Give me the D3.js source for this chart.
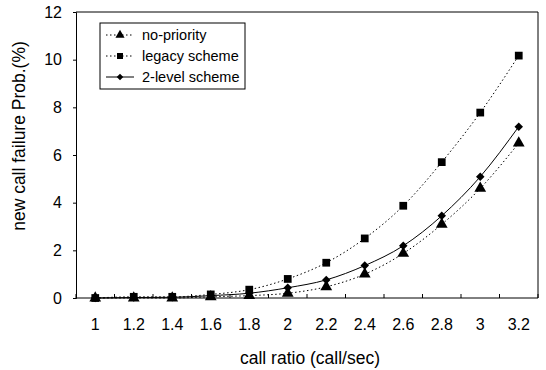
<!DOCTYPE html>
<html>
<head>
<meta charset="utf-8">
<script src="https://cdn.jsdelivr.net/npm/d3@7"></script>
<style>
  body { margin: 0; background: #fff; }
  svg text { font-family: "Liberation Sans", Arial, sans-serif; fill: #000; }
</style>
</head>
<body>
<svg id="chart" width="546" height="370"></svg>
<script>
// call ratio categories
const ratios = ["1", "1.2", "1.4", "1.6", "1.8", "2", "2.2", "2.4", "2.6", "2.8", "3", "3.2"];
const noPriority = [0, 0, 0, 0.05, 0.1, 0.2, 0.47, 1.0, 1.87, 3.09, 4.6, 6.5];
const legacy = [0, 0.05, 0.05, 0.15, 0.35, 0.8, 1.48, 2.5, 3.87, 5.7, 7.78, 10.17];
const twoLevel = [0, 0.02, 0.03, 0.1, 0.2, 0.43, 0.76, 1.36, 2.19, 3.45, 5.09, 7.19];
const yTicks = [0, 2, 4, 6, 8, 10, 12];

// diamond = square turned 45deg (excel style)
const series = [
  { name: "no-priority", values: noPriority, shape: d3.symbolTriangle, size: 60, rot: 0, dash: "1.5,2.5" },
  { name: "legacy scheme", values: legacy, shape: d3.symbolSquare, size: 60, rot: 0, dash: "1.5,2.5" },
  { name: "2-level scheme", values: twoLevel, shape: d3.symbolSquare, size: 36, rot: 45, dash: null }
];

const svg = d3.select("#chart");
const m = { left: 76, right: 538, top: 12, bottom: 298 };

const x = d3.scaleBand().domain(ratios).range([m.left, m.right]);
const y = d3.scaleLinear().domain([0, 12]).range([m.bottom, m.top]);

// plot frame (top + right)
svg.append("path")
  .attr("d", `M${m.left},${m.top}H${m.right}V${m.bottom}`)
  .attr("fill", "none").attr("stroke", "#000").attr("stroke-width", 1);

// y axis
const yAxis = svg.append("g")
  .attr("transform", `translate(${m.left},0)`)
  .call(d3.axisLeft(y).tickValues(yTicks).tickSize(3).tickPadding(11));
yAxis.selectAll("text").style("font-size", "16px");

// x axis: ticks between categories, pointing up
const xAxis = svg.append("g").attr("transform", `translate(0,${m.bottom})`);
xAxis.append("line").attr("x1", m.left).attr("x2", m.right).attr("stroke", "#000");
const bounds = ratios.map(r => x(r)).concat([m.right]);
xAxis.selectAll(".tk").data(bounds).enter().append("line")
  .attr("x1", d => d).attr("x2", d => d).attr("y1", 0).attr("y2", -4).attr("stroke", "#000");
xAxis.selectAll(".lb").data(ratios).enter().append("text")
  .attr("x", d => x(d) + x.bandwidth() / 2).attr("y", 32)
  .attr("text-anchor", "middle").style("font-size", "16px").text(d => d);

const cx = r => x(r) + x.bandwidth() / 2;
const line = d3.line().x((d, i) => cx(ratios[i])).y(d => y(d)).curve(d3.curveMonotoneX);

series.forEach(s => {
  svg.append("path").datum(s.values).attr("d", line)
    .attr("fill", "none").attr("stroke", "#000").attr("stroke-width", 1)
    .attr("stroke-dasharray", s.dash);
  svg.selectAll(null).data(s.values).enter().append("path")
    .attr("transform", (d, i) => `translate(${cx(ratios[i])},${y(d)}) rotate(${s.rot})`)
    .attr("d", d3.symbol().type(s.shape).size(s.size))
    .attr("fill", "#000");
});

// legend
const lg = svg.append("g").attr("transform", "translate(100,23)");
lg.append("rect").attr("width", 145).attr("height", 66)
  .attr("fill", "#fff").attr("stroke", "#000").attr("stroke-width", 1);
series.forEach((s, i) => {
  const yy = 12 + i * 21;
  lg.append("line").attr("x1", 6).attr("x2", 34).attr("y1", yy).attr("y2", yy)
    .attr("stroke", "#000").attr("stroke-dasharray", s.dash);
  lg.append("path").attr("transform", `translate(20,${yy}) rotate(${s.rot})`)
    .attr("d", d3.symbol().type(s.shape).size(s.size * 0.6))
    .attr("fill", "#000");
  lg.append("text").attr("x", 42).attr("y", yy + 5).style("font-size", "14.5px").text(s.name);
});

// axis titles
svg.append("text").attr("transform", "translate(25,136) rotate(-90)")
  .attr("text-anchor", "middle").style("font-size", "17.5px").text("new call failure Prob.(%)");
svg.append("text").attr("x", 310).attr("y", 364)
  .attr("text-anchor", "middle").style("font-size", "17.5px").text("call ratio (call/sec)");
</script>
</body>
</html>
